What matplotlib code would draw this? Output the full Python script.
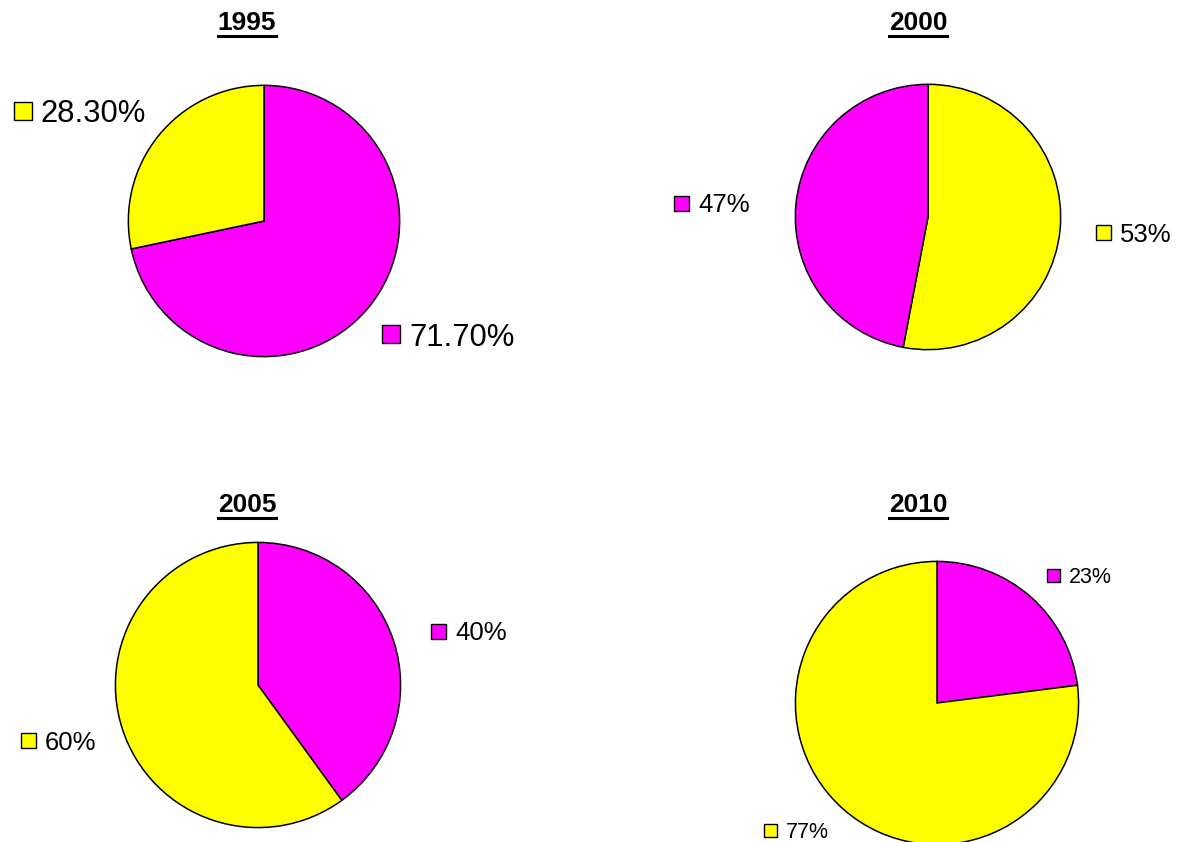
import matplotlib
matplotlib.use("Agg")
import matplotlib.pyplot as plt
from matplotlib.patches import Rectangle
from matplotlib.lines import Line2D

plt.rcParams["font.family"] = ["Liberation Sans", "DejaVu Sans"]

# ── Datos ────────────────────────────────────────────────────────────────────
years = ["1995", "2000", "2005", "2010"]
yellow_share = [28.3, 53, 60, 77]
magenta_share = [71.7, 47, 40, 23]
yellow_labels = ["28.30%", "53%", "60%", "77%"]
magenta_labels = ["71.70%", "47%", "40%", "23%"]
# orden de los sectores (en sentido horario desde las 12)
magenta_first = [True, False, True, True]

YELLOW = "#FFFF00"
MAGENTA = "#FF00FF"

# ── Layout (pixels, origen arriba-izquierda) ─────────────────────────────────
W, H = 1178, 842
pies = [(264, 221, 137), (928, 217, 134), (258, 685, 144), (937, 703, 143)]
titles = [(247, 23), (918, 23), (247, 505), (918, 505)]
# (x cuadrado, y centro, lado, tamaño fuente) para amarillo y magenta
ylab = [(14, 111, 18, 22.3), (1096, 232, 15, 18.5), (21, 740, 15, 18.5), (764, 830, 13, 15.5)]
mlab = [(382, 334, 18, 22.3), (674, 203, 15, 18.5), (431, 631, 15, 18.5), (1047, 575, 13, 15.5)]


def fx(x):
    return x / W


def fy(y):
    return 1 - y / H


fig = plt.figure(figsize=(W / 100, H / 100), dpi=100)

title_texts = []
for i, yr in enumerate(years):
    cx, cy, r = pies[i]
    ax = fig.add_axes([fx(cx - r), fy(cy + r), 2 * r / W, 2 * r / H])
    if magenta_first[i]:
        vals, cols = [magenta_share[i], yellow_share[i]], [MAGENTA, YELLOW]
    else:
        vals, cols = [yellow_share[i], magenta_share[i]], [YELLOW, MAGENTA]
    ax.pie(vals, colors=cols, startangle=90, counterclock=False, radius=1,
           wedgeprops=dict(edgecolor="black", linewidth=1.1))
    ax.set_xlim(-1.01, 1.01)
    ax.set_ylim(-1.01, 1.01)
    ax.set_aspect("equal")
    ax.axis("off")

    tx, ty = titles[i]
    t = fig.text(fx(tx), fy(ty), yr, ha="center", va="center",
                 fontsize=19, fontweight="bold")
    title_texts.append(t)

    for (sx, sy, s, fs), col, lab in [(ylab[i], YELLOW, yellow_labels[i]),
                                      (mlab[i], MAGENTA, magenta_labels[i])]:
        fig.add_artist(Rectangle((fx(sx), fy(sy + s / 2)), s / W, s / H,
                                 facecolor=col, edgecolor="black", linewidth=1.0,
                                 transform=fig.transFigure))
        fig.text(fx(sx + s + 9), fy(sy), lab, ha="left", va="center_baseline",
                 fontsize=fs)

# subrayado de los títulos
fig.canvas.draw()
renderer = fig.canvas.get_renderer()
for t in title_texts:
    bb = t.get_window_extent(renderer)
    yline = bb.y0 - 1
    fig.add_artist(Line2D([bb.x0 / W, bb.x1 / W], [yline / H, yline / H],
                          color="black", linewidth=2.2,
                          transform=fig.transFigure))

fig.savefig("out.png", dpi=100)
